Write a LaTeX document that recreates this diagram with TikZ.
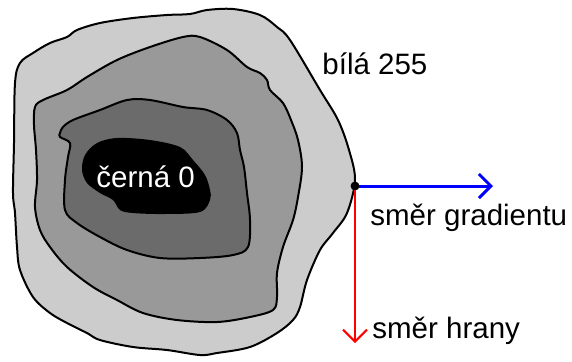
\documentclass[tikz,border=0pt]{standalone}
\usepackage{fontspec}
\setmainfont{Liberation Sans}
\usetikzlibrary{arrows.meta}
\definecolor{lightgr}{gray}{0.8}
\definecolor{midgr}{gray}{0.6}
\definecolor{darkgr}{gray}{0.42}
\tikzset{
  level/.style={draw=black, line width=1pt, line join=round},
  lbl/.style={font=\fontsize{14.75}{17}\selectfont, inner sep=0pt, anchor=base west},
  dir/.style={line width=#1, -{Straight Barb[length=6pt, width=12pt, line width=#1]}}
}
\begin{document}
\begin{tikzpicture}[x=0.5pt,y=-0.5pt]
\useasboundingbox (0,0) rectangle (572,361);
\path[level,fill=lightgr] plot[smooth cycle,tension=0.55] coordinates {
  (13,193) (14,143) (15,83) (20,63) (33,53) (50,43) (67,37) (77,30) (100,23)
  (133,18) (167,15) (190,14) (207,10) (233,9) (260,15) (277,27) (290,40)
  (320,90) (338,120) (349,150) (355,180)
  (347,213) (333,233) (320,250) (307,280) (300,307) (293,320) (277,333)
  (250,347) (217,353) (200,355) (167,350) (133,347) (100,340) (87,333)
  (67,323) (50,313) (33,297) (20,270) (17,247) (15,213)};
\path[level,fill=midgr] plot[smooth cycle,tension=0.55] coordinates {
  (35,107) (43,100) (67,90) (87,77) (117,60) (150,47) (183,37) (200,37)
  (227,50) (247,67) (260,73) (267,80) (270,90) (283,103) (291,120)
  (298,140) (302,167) (298,197) (293,220) (283,247) (277,273) (277,297)
  (273,310) (250,317) (217,322) (177,320) (143,313) (117,300) (93,287)
  (67,267) (50,247) (40,230) (35,207) (37,180) (36,150) (34,125)};
\path[level,fill=darkgr] plot[smooth cycle,tension=0.55] coordinates {
  (60,133) (63,127) (73,120) (100,110) (127,100) (150,100) (183,107)
  (207,110) (227,120) (237,133) (240,150) (244,167) (247,193) (250,220)
  (248,247) (233,255) (200,258) (160,258) (127,250) (100,237) (77,223)
  (65,210) (65,180) (68,157) (70,143) (60,137)};
\path[fill=black] plot[smooth cycle,tension=0.55] coordinates {
  (97,143) (117,138) (150,140) (180,147) (193,160) (205,175) (210,190)
  (210,200) (200,212) (164,214) (133,213) (120,210) (113,200) (100,193)
  (87,183) (82,170) (85,155)};
\node[lbl, text=white] (cerna) at (96,187) {černá 0};
\node[lbl] (bila) at (322,74) {bílá 255};
\node[draw, circle, fill=black, inner sep=0pt, minimum size=4pt] (bod) at (355,186) {};
\coordinate (gr) at (493,186);
\coordinate (hr) at (355,343);
\path[draw,blue,dir=1.5pt] (bod) -- (gr);
\path[draw,red,dir=1pt] (bod) -- (hr);
\node[lbl] (smergr) at (370,225) {směr gradientu};
\node[lbl] (smerhr) at (372,338) {směr hrany};
\end{tikzpicture}
\end{document}
